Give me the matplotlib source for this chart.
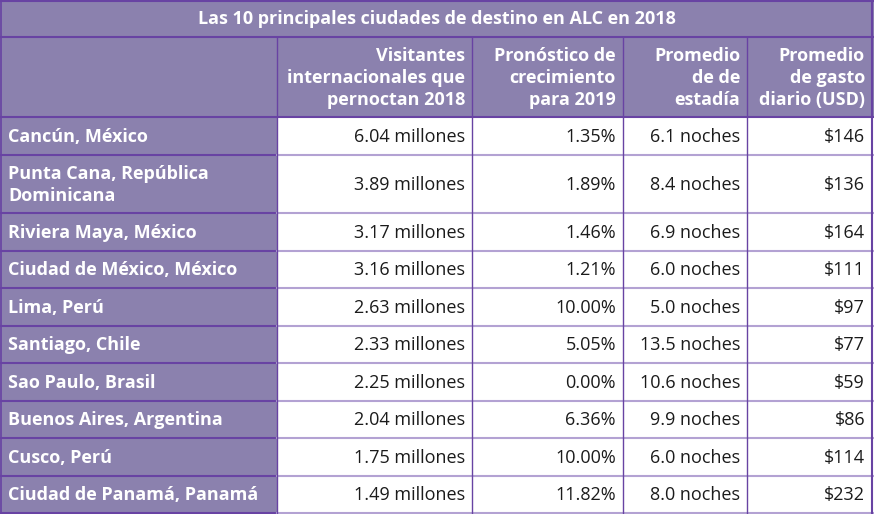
import matplotlib
matplotlib.use("Agg")
import matplotlib.pyplot as plt
from matplotlib.patches import Rectangle

title = "Las 10 principales ciudades de destino en ALC en 2018"
headers = ["", "Visitantes\ninternacionales que\npernoctan 2018",
           "Pronóstico de\ncrecimiento\npara 2019",
           "Promedio\nde de\nestadía",
           "Promedio\nde gasto\ndiario (USD)"]
cities = ["Cancún, México", "Punta Cana, República\nDominicana",
          "Riviera Maya, México", "Ciudad de México, México", "Lima, Perú",
          "Santiago, Chile", "Sao Paulo, Brasil", "Buenos Aires, Argentina",
          "Cusco, Perú", "Ciudad de Panamá, Panamá"]
visitors = [6.04, 3.89, 3.17, 3.16, 2.63, 2.33, 2.25, 2.04, 1.75, 1.49]
growth = [1.35, 1.89, 1.46, 1.21, 10.00, 5.05, 0.00, 6.36, 10.00, 11.82]
stay = [6.1, 8.4, 6.9, 6.0, 5.0, 13.5, 10.6, 9.9, 6.0, 8.0]
spend = [146, 136, 164, 111, 97, 77, 59, 86, 114, 232]

# layout (pixels)
W, H = 874, 514
col_edges = [0, 277, 472, 623, 747, 872]
title_h = 37
header_h = 80
row_h = [38, 58, 37.5, 37.5, 37.5, 37.5, 37.5, 37.5, 37.5, 37.5]

FILL = "#8B81AE"
DARK = "#6843A3"
LIGHT = "#B3A2D3"
TXT = "#1b1b1b"
FONT = ["Open Sans", "DejaVu Sans"]
FS = 13
LS = 1.26

fig = plt.figure(figsize=(W / 100, H / 100), dpi=100)
ax = fig.add_axes([0, 0, 1, 1])
ax.set_xlim(0, W)
ax.set_ylim(H, 0)
ax.axis("off")

# title row
ax.add_patch(Rectangle((0, 0), W, title_h, facecolor=FILL, edgecolor="none"))
ax.text(W / 2, title_h / 2 + 1, title, ha="center", va="center", color="white",
        fontsize=FS, fontweight="bold", family=FONT)

# header row
y0 = title_h
ax.add_patch(Rectangle((0, y0), W, header_h, facecolor=FILL, edgecolor="none"))
for j in range(1, 5):
    ax.text(col_edges[j + 1] - 7, y0 + header_h / 2 + 1, headers[j], ha="right",
            va="center", color="white", fontsize=FS, fontweight="bold",
            family=FONT, linespacing=LS)

# data rows
ys = [y0 + header_h]
for h in row_h:
    ys.append(ys[-1] + h)

for i, city in enumerate(cities):
    top, bot = ys[i], ys[i + 1]
    cy = (top + bot) / 2 + 1
    ax.add_patch(Rectangle((0, top), col_edges[1], bot - top, facecolor=FILL,
                           edgecolor="none"))
    ax.add_patch(Rectangle((col_edges[1], top), W - col_edges[1], bot - top,
                           facecolor="white", edgecolor="none"))
    ax.text(8, cy, city, ha="left", va="center", color="white", fontsize=FS,
            fontweight="bold", family=FONT, linespacing=LS)
    vals = [f"{visitors[i]:.2f} millones", f"{growth[i]:.2f}%",
            f"{stay[i]:.1f} noches", f"${spend[i]}"]
    for j, v in enumerate(vals):
        ax.text(col_edges[j + 2] - 7, cy, v, ha="right", va="center", color=TXT,
                fontsize=FS, family=FONT)

# horizontal lines
ax.plot([0, W], [0.8, 0.8], color=DARK, lw=1.5)
ax.plot([0, W], [title_h, title_h], color=DARK, lw=1.5)
ax.plot([0, W], [ys[0], ys[0]], color=DARK, lw=1.5)
for k in range(1, len(ys)):
    y = ys[k]
    ax.plot([0, col_edges[1]], [y, y], color=DARK, lw=1.5)
    ax.plot([col_edges[1], W], [y, y], color=LIGHT, lw=1.5)

# vertical lines
ax.plot([0.6, 0.6], [0, H], color=DARK, lw=1.2)
ax.plot([col_edges[-1], col_edges[-1]], [0, H], color=DARK, lw=1.5)
for x in col_edges[1:-1]:
    ax.plot([x, x], [title_h, H], color=DARK, lw=1.0)

fig.savefig("out.png", dpi=100)
